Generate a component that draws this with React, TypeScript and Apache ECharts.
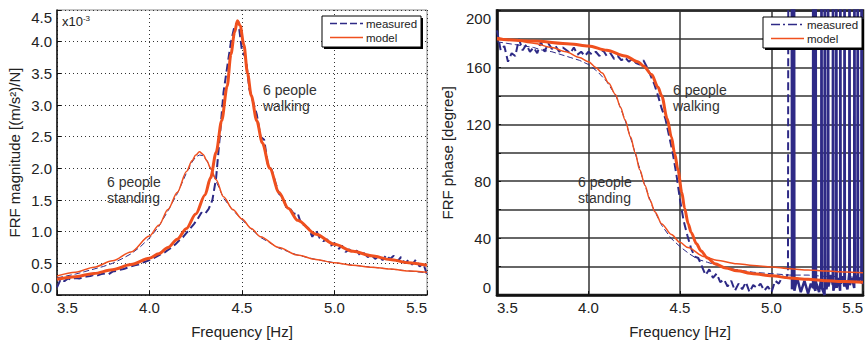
import React, { useEffect, useRef } from "react";
import * as echarts from "echarts";

// ---------- Magnitude (left) ----------
const magModelWalkF = [3.5, 3.6, 3.7, 3.8, 3.9, 4.0, 4.05, 4.1, 4.15, 4.2, 4.25, 4.3, 4.33, 4.36, 4.39, 4.42, 4.44, 4.46, 4.475, 4.49, 4.51, 4.53, 4.55, 4.58, 4.61, 4.65, 4.7, 4.75, 4.8, 4.9, 5.0, 5.1, 5.2, 5.3, 5.4, 5.5];
const magModelWalkV = [0.25, 0.29, 0.34, 0.40, 0.48, 0.58, 0.65, 0.75, 0.88, 1.05, 1.28, 1.58, 1.85, 2.25, 2.75, 3.3, 3.8, 4.15, 4.33, 4.25, 3.95, 3.5, 3.15, 2.75, 2.4, 2.0, 1.62, 1.37, 1.18, 0.96, 0.80, 0.69, 0.62, 0.56, 0.51, 0.47];

const magModelStandF = [3.5, 3.6, 3.7, 3.8, 3.9, 4.0, 4.05, 4.1, 4.15, 4.2, 4.23, 4.25, 4.27, 4.29, 4.31, 4.33, 4.36, 4.4, 4.45, 4.5, 4.55, 4.6, 4.7, 4.8, 4.9, 5.0, 5.1, 5.2, 5.3, 5.4, 5.5];
const magModelStandV = [0.30, 0.36, 0.44, 0.54, 0.68, 0.93, 1.1, 1.35, 1.62, 1.95, 2.12, 2.21, 2.26, 2.22, 2.12, 2.0, 1.82, 1.55, 1.35, 1.2, 1.05, 0.92, 0.75, 0.63, 0.56, 0.51, 0.47, 0.44, 0.41, 0.38, 0.36];

const magMeasStandF = [3.5, 3.55, 3.6, 3.65, 3.7, 3.75, 3.8, 3.85, 3.9, 3.95, 4.0, 4.05, 4.1, 4.15, 4.2, 4.23, 4.25, 4.27, 4.29, 4.31, 4.33, 4.36, 4.4, 4.45, 4.5, 4.55, 4.6, 4.7, 4.8, 4.9, 5.0, 5.1, 5.2, 5.3, 5.4, 5.5];
const magMeasStandV = [0.27, 0.30, 0.33, 0.37, 0.41, 0.45, 0.50, 0.57, 0.65, 0.76, 0.90, 1.08, 1.33, 1.60, 1.93, 2.10, 2.18, 2.21, 2.20, 2.12, 2.00, 1.80, 1.53, 1.34, 1.19, 1.04, 0.91, 0.74, 0.63, 0.56, 0.51, 0.47, 0.44, 0.41, 0.38, 0.35];

const magMeasWalkF = [3.50, 3.52, 3.54, 3.56, 3.58, 3.60, 3.62, 3.64, 3.66, 3.68, 3.70, 3.72, 3.74, 3.76, 3.78, 3.80, 3.82, 3.84, 3.86, 3.88, 3.90, 3.92, 3.94, 3.96, 3.98, 4.00, 4.02, 4.04, 4.06, 4.08, 4.10, 4.12, 4.14, 4.16, 4.18, 4.20, 4.22, 4.24, 4.26, 4.28, 4.30, 4.32, 4.34, 4.36, 4.38, 4.40, 4.42, 4.44, 4.46, 4.48, 4.50, 4.52, 4.54, 4.56, 4.58, 4.60, 4.62, 4.64, 4.66, 4.68, 4.70, 4.72, 4.74, 4.76, 4.78, 4.80, 4.82, 4.84, 4.86, 4.88, 4.90, 4.92, 4.94, 4.96, 4.98, 5.00, 5.02, 5.04, 5.06, 5.08, 5.10, 5.12, 5.14, 5.16, 5.18, 5.20, 5.22, 5.24, 5.26, 5.28, 5.30, 5.32, 5.34, 5.36, 5.38, 5.40, 5.42, 5.44, 5.46, 5.48, 5.50];
const magMeasWalkV = [0.12, 0.25, 0.22, 0.26, 0.24, 0.27, 0.26, 0.28, 0.29, 0.30, 0.32, 0.31, 0.33, 0.34, 0.33, 0.37, 0.38, 0.40, 0.41, 0.43, 0.45, 0.47, 0.48, 0.51, 0.53, 0.55, 0.58, 0.61, 0.64, 0.67, 0.71, 0.75, 0.80, 0.86, 0.91, 0.98, 1.05, 1.12, 1.20, 1.30, 1.28, 1.36, 1.50, 1.85, 2.50, 3.20, 3.60, 3.99, 4.25, 4.32, 3.85, 3.75, 3.25, 3.05, 2.85, 2.50, 2.45, 2.05, 1.98, 1.78, 1.60, 1.55, 1.38, 1.36, 1.28, 1.30, 1.12, 1.10, 1.05, 0.92, 1.02, 0.90, 0.85, 0.88, 0.78, 0.82, 0.72, 0.78, 0.68, 0.72, 0.66, 0.70, 0.62, 0.66, 0.60, 0.63, 0.57, 0.62, 0.55, 0.63, 0.57, 0.62, 0.53, 0.60, 0.50, 0.55, 0.48, 0.56, 0.45, 0.50, 0.32];

// ---------- Phase (right) ----------
const phModelWalkF = [3.5, 3.7, 3.9, 4.0, 4.1, 4.2, 4.27, 4.3, 4.345, 4.38, 4.4, 4.43, 4.453, 4.47, 4.489, 4.51, 4.525, 4.545, 4.561, 4.59, 4.615, 4.65, 4.69, 4.75, 4.81, 4.9, 5.0, 5.1, 5.2, 5.3, 5.4, 5.5];
const phModelWalkV = [180, 178.5, 176.5, 175, 172, 168, 164, 161, 155, 146, 140, 124, 111, 100, 88, 72, 61, 50, 44, 36, 31, 26, 22, 19, 17, 15, 13.5, 12, 11, 10, 9.5, 9];

const phModelStandF = [3.5, 3.6, 3.7, 3.8, 3.877, 3.95, 4.0, 4.04, 4.075, 4.11, 4.147, 4.175, 4.2, 4.23, 4.255, 4.28, 4.309, 4.335, 4.363, 4.4, 4.453, 4.5, 4.543, 4.633, 4.7, 4.81, 4.9, 5.0, 5.1, 5.2, 5.3, 5.4, 5.5];
const phModelStandV = [181, 179, 177, 174, 171, 167, 164, 160, 156, 149, 141, 132, 123, 111, 100, 88, 77, 67, 58.5, 50, 42.5, 37, 33.4, 27, 24.5, 22, 20.8, 19.7, 18.5, 17.5, 16.8, 16.2, 15.6];

const phMeasStandF = [3.5, 3.55, 3.6, 3.65, 3.7, 3.75, 3.8, 3.85, 3.9, 3.95, 4.0, 4.05, 4.1, 4.15, 4.2, 4.25, 4.3, 4.35, 4.4, 4.45, 4.5, 4.55, 4.6, 4.65, 4.7, 4.8, 4.9, 5.0, 5.1, 5.2, 5.3, 5.4, 5.5];
const phMeasStandV = [178, 177, 176, 175, 174, 172, 171, 169, 167, 165, 162, 157, 150, 140, 123, 102, 80, 62, 49, 40, 34, 29, 25, 23, 21, 18, 16, 15, 14, 14, 13, 13, 12];

const phMeasWalkF = [3.50, 3.52, 3.54, 3.56, 3.58, 3.60, 3.62, 3.64, 3.66, 3.68, 3.70, 3.72, 3.74, 3.76, 3.78, 3.80, 3.82, 3.84, 3.86, 3.88, 3.90, 3.92, 3.94, 3.96, 3.98, 4.00, 4.02, 4.04, 4.06, 4.08, 4.10, 4.12, 4.14, 4.16, 4.18, 4.20, 4.22, 4.24, 4.26, 4.28, 4.30, 4.32, 4.34, 4.36, 4.38, 4.40, 4.42, 4.44, 4.46, 4.48, 4.50, 4.52, 4.54, 4.56, 4.58, 4.60, 4.62, 4.64, 4.66, 4.68, 4.70, 4.72, 4.74, 4.76, 4.78, 4.80, 4.82, 4.84, 4.86, 4.88, 4.90, 4.92, 4.94, 4.96, 4.98, 5.00, 5.02, 5.04, 5.06, 5.08, 5.09, 5.093];
const phMeasWalkV = [186, 172, 175, 164, 170, 168, 180, 172, 176, 171, 174, 170, 178, 171, 177, 173, 175, 171, 174, 172, 170, 174, 169, 171, 168, 171, 169, 171, 168, 172, 168, 170, 166, 168, 165, 167, 164, 166, 163, 162, 165, 160, 154, 148, 140, 131, 124, 112, 100, 85, 67, 52, 42, 33, 27, 26, 20, 14, 18, 12, 15, 9, 11, 6, 10, 3, 8, 4, 9, 2, 7, 5, 8, 3, 6, 2, 10, 8, 13, 12, 15, 360];

// wrapped phase above 5.1 Hz (values above the axis are clipped)
const phWrapF = [5.093, 5.110, 5.112, 5.12, 5.122, 5.123, 5.125, 5.14, 5.16, 5.18, 5.20, 5.215, 5.227, 5.228, 5.230, 5.240, 5.241, 5.243, 5.26, 5.272, 5.273, 5.275, 5.290, 5.291, 5.293, 5.30, 5.308, 5.309, 5.311, 5.325, 5.335, 5.336, 5.338, 5.353, 5.354, 5.356, 5.365, 5.375, 5.376, 5.378, 5.39, 5.398, 5.399, 5.401, 5.415, 5.425, 5.426, 5.428, 5.44, 5.452, 5.453, 5.455, 5.47, 5.471, 5.473, 5.491, 5.492, 5.494, 5.5];
const phWrapV = [360, 360, 4, 10, 6, 360, 3, 12, 2, 10, 1, 8, 5, 360, 6, 3, 360, 9, 2, 12, 360, 5, 0, 360, 8, 4, 10, 360, 6, 14, 7, 360, 3, 10, 360, 5, 12, 3, 360, 8, 13, 6, 360, 10, 4, 15, 360, 7, 12, 5, 360, 9, 14, 360, 10, 12, 360, 8, 9];

const xTicks = [3.5, 4.0, 4.5, 5.0, 5.5];
const legendNames = ["measured", "model"];

const DARK = "#2e2a86";
const RED = "#f0501e";
const FONT = "'Liberation Sans', Arial, Helvetica, sans-serif";

const zip = (f: number[], v: number[]) => f.map((x, i) => [x, v[i]]);

function legendGraphics(x: number, y: number, w: number, h: number, measuredDash: number[]) {
  const lx0 = x + 8;
  const lx1 = x + 41;
  const tx = x + 44;
  const r1 = y + 7.5;
  const r2 = y + 21.5;
  return [
    { type: "rect", z: 20, shape: { x: x + 2, y: y + 2, width: w, height: h }, style: { fill: "#000" } },
    { type: "rect", z: 21, shape: { x, y, width: w, height: h }, style: { fill: "#fff", stroke: "#000", lineWidth: 1 } },
    { type: "line", z: 22, shape: { x1: lx0, y1: r1, x2: lx1, y2: r1 }, style: { stroke: DARK, lineWidth: 1.5, lineDash: measuredDash } },
    { type: "line", z: 22, shape: { x1: lx0, y1: r2, x2: lx1, y2: r2 }, style: { stroke: RED, lineWidth: 1.5 } },
    { type: "text", z: 22, x: tx, y: r1, style: { text: legendNames[0], fontFamily: FONT, fontSize: 11.5, fill: "#222", verticalAlign: "middle" } },
    { type: "text", z: 22, x: tx, y: r2, style: { text: legendNames[1], fontFamily: FONT, fontSize: 11.5, fill: "#222", verticalAlign: "middle" } },
  ];
}

export default function App() {
  const ref = useRef<HTMLDivElement>(null);
  useEffect(() => {
    if (!ref.current) return;
    const chart = echarts.init(ref.current, undefined, { renderer: "svg" });

    const xAxisBase = (gridIndex: number, dotted: boolean) => ({
      type: "value",
      gridIndex,
      min: xTicks[0],
      max: xTicks[xTicks.length - 1],
      interval: 0.5,
      name: "Frequency [Hz]",
      nameLocation: "middle",
      nameGap: 29,
      nameTextStyle: { fontFamily: FONT, fontSize: 15, color: "#222" },
      axisLine: { show: true, lineStyle: { color: "#111", width: dotted ? 1.5 : 2.5 } },
      axisTick: { show: true, inside: true, length: 4, lineStyle: { color: "#111" } },
      axisLabel: {
        fontFamily: FONT,
        fontSize: 15,
        color: "#222",
        margin: 5,
        alignMinLabel: "left",
        alignMaxLabel: "right",
        formatter: (v: number) => v.toFixed(1),
      },
      splitLine: {
        show: true,
        lineStyle: dotted
          ? { color: "#333", width: 1, type: [1, 3] }
          : { color: "#333", width: 1.5, type: "solid" },
      },
    });

    const line = (
      name: string,
      xi: number,
      data: number[][],
      color: string,
      width: number,
      type: any,
      z: number,
      smooth = false
    ) => ({
      type: "line",
      name,
      xAxisIndex: xi,
      yAxisIndex: xi,
      data,
      symbol: "none",
      showSymbol: false,
      clip: true,
      smooth: smooth ? 0.3 : false,
      smoothMonotone: smooth ? "x" : undefined,
      z,
      lineStyle: { color, width, type },
      itemStyle: { color },
    });

    const option: any = {
      animation: false,
      backgroundColor: "#fff",
      textStyle: { fontFamily: FONT },
      grid: [
        { left: 57, top: 10, width: 370, height: 292, show: true, borderColor: "#888", borderWidth: 1, backgroundColor: "transparent" },
        { left: 497, top: 10.5, width: 370, height: 291.5, show: true, borderColor: "#111", borderWidth: 2.5, backgroundColor: "transparent" },
      ],
      xAxis: [xAxisBase(0, true), xAxisBase(1, false)],
      yAxis: [
        {
          type: "value",
          gridIndex: 0,
          min: 0,
          max: 4.5,
          interval: 0.5,
          name: "FRF magnitude [(m/s²)/N]",
          nameLocation: "middle",
          nameGap: 35,
          nameTextStyle: { fontFamily: FONT, fontSize: 15, color: "#222" },
          axisLine: { show: true, lineStyle: { color: "#111", width: 1.5 } },
          axisTick: { show: true, inside: true, length: 4, lineStyle: { color: "#111" } },
          axisLabel: {
            fontFamily: FONT,
            fontSize: 15,
            color: "#222",
            margin: 5,
            verticalAlignMinLabel: "bottom",
            verticalAlignMaxLabel: "top",
            formatter: (v: number) => v.toFixed(1),
          },
          splitLine: { show: true, lineStyle: { color: "#333", width: 1, type: [1, 3] } },
        },
        {
          type: "value",
          gridIndex: 1,
          min: 0,
          max: 200,
          interval: 20,
          name: "FRF phase [degree]",
          nameLocation: "middle",
          nameGap: 42,
          nameTextStyle: { fontFamily: FONT, fontSize: 15, color: "#222" },
          axisLine: { show: true, lineStyle: { color: "#111", width: 2.5 } },
          axisTick: { show: true, inside: true, length: 4, lineStyle: { color: "#111" } },
          axisLabel: {
            fontFamily: FONT,
            fontSize: 15,
            color: "#222",
            margin: 6,
            verticalAlignMinLabel: "bottom",
            verticalAlignMaxLabel: "top",
            formatter: (v: number) => (v % 40 === 0 ? String(v) : ""),
          },
          splitLine: { show: true, lineStyle: { color: "#333", width: 1.5 } },
        },
      ],
      graphic: [
        ...legendGraphics(322, 16, 99, 31, [7, 3]),
        ...legendGraphics(763, 17, 99, 31, [9, 3, 2, 3]),
        {
          type: "text",
          x: 62,
          y: 14,
          z: 10,
          style: {
            text: "{a|x10}{b|-3}",
            rich: {
              a: { fontFamily: FONT, fontSize: 13, fill: "#222", verticalAlign: "bottom" },
              b: { fontFamily: FONT, fontSize: 8, fill: "#222", verticalAlign: "top", padding: [0, 0, 6, 0] },
            },
          },
        },
        { type: "text", x: 263, y: 82, z: 10, style: { text: "6 people\nwalking", fontFamily: FONT, fontSize: 14, lineHeight: 16, fill: "#333" } },
        { type: "text", x: 107, y: 174, z: 10, style: { text: "6 people\nstanding", fontFamily: FONT, fontSize: 14, lineHeight: 16, fill: "#333" } },
        { type: "text", x: 673, y: 82, z: 10, style: { text: "6 people\nwalking", fontFamily: FONT, fontSize: 14, lineHeight: 16, fill: "#333" } },
        { type: "text", x: 578, y: 174, z: 10, style: { text: "6 people\nstanding", fontFamily: FONT, fontSize: 14, lineHeight: 16, fill: "#333" } },
      ],
      series: [
        line("measured", 0, zip(magMeasWalkF, magMeasWalkV), DARK, 2, [8, 4], 2),
        line("measured", 0, zip(magMeasStandF, magMeasStandV), DARK, 1, [6, 3], 2),
        line("model", 0, zip(magModelStandF, magModelStandV), RED, 1.5, "solid", 3, true),
        line("model", 0, zip(magModelWalkF, magModelWalkV), RED, 3, "solid", 4, true),
        line("measured", 1, zip(phMeasWalkF, phMeasWalkV), DARK, 2, [8, 4], 2),
        line("measured", 1, zip(phWrapF, phWrapV), DARK, 2.5, "solid", 2),
        line("measured", 1, zip(phMeasStandF, phMeasStandV), DARK, 1, [6, 3], 2),
        line("model", 1, zip(phModelStandF, phModelStandV), RED, 1.5, "solid", 3, true),
        line("model", 1, zip(phModelWalkF, phModelWalkV), RED, 3, "solid", 4, true),
      ],
    };

    chart.setOption(option);
    return () => chart.dispose();
  }, []);

  return (
    <div
      ref={ref}
      style={{ position: "fixed", left: 0, top: 0, width: 866, height: 344, background: "#fff" }}
    />
  );
}
